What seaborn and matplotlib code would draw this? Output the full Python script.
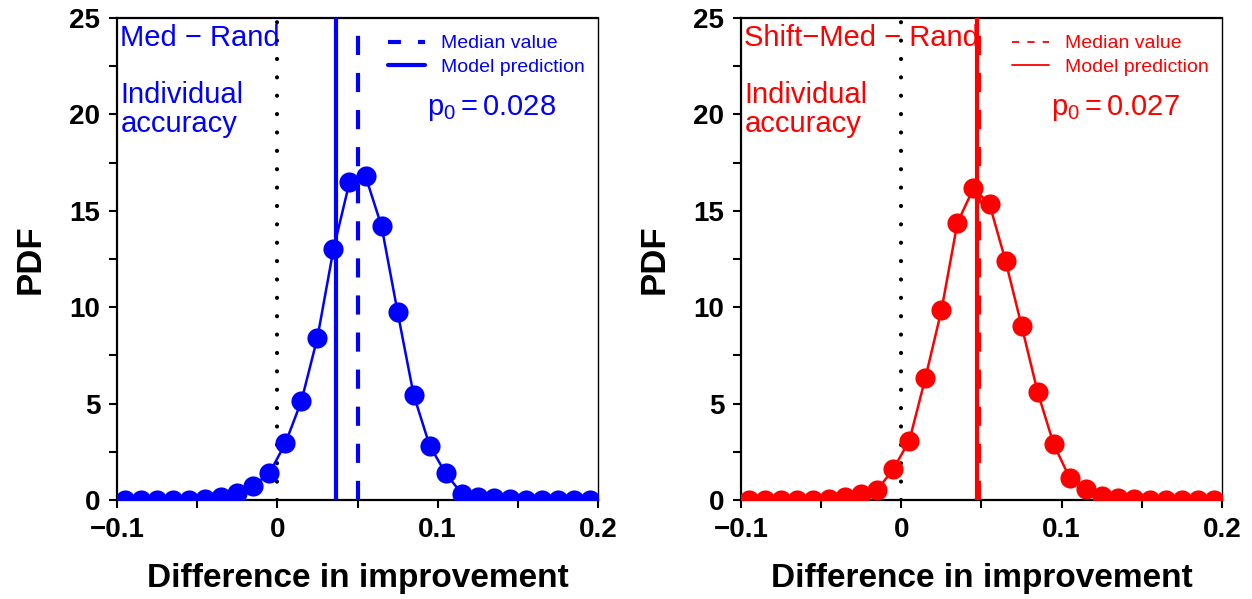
import matplotlib
matplotlib.use("Agg")
import matplotlib.pyplot as plt
import numpy as np
import pandas as pd
import seaborn as sns
from matplotlib.lines import Line2D
from matplotlib.ticker import FixedLocator

# Bin centres of the difference-in-improvement histogram
bin_centers = [-0.095, -0.085, -0.075, -0.065, -0.055, -0.045, -0.035, -0.025,
               -0.015, -0.005, 0.005, 0.015, 0.025, 0.035, 0.045, 0.055,
               0.065, 0.075, 0.085, 0.095, 0.105, 0.115, 0.125, 0.135,
               0.145, 0.155, 0.165, 0.175, 0.185, 0.195]

# PDF values: Med - Rand
pdf_med_rand = [0.0, 0.0, 0.0, 0.0, 0.02, 0.05, 0.15, 0.35, 0.74, 1.38,
                2.94, 5.13, 8.42, 13.0, 16.48, 16.8, 14.2, 9.75, 5.46, 2.82,
                1.38, 0.33, 0.15, 0.08, 0.03, 0.02, 0.01, 0.0, 0.0, 0.0]

# PDF values: Shift-Med - Rand
pdf_shift_med_rand = [0.0, 0.0, 0.0, 0.0, 0.02, 0.05, 0.17, 0.31, 0.52, 1.61,
                      3.08, 6.33, 9.84, 14.38, 16.17, 15.35, 12.4, 9.04, 5.6, 2.9,
                      1.14, 0.55, 0.2, 0.08, 0.03, 0.02, 0.01, 0.0, 0.0, 0.0]

panel_titles = ["Med \u2212 Rand", "Shift\u2212Med \u2212 Rand"]
p0_values = ["0.028", "0.027"]
median_values = [0.0504, 0.0485]
model_predictions = [0.0368, 0.0472]
colors = ["#0000ff", "#ff0000"]

x_ticks = [-0.1, 0.0, 0.1, 0.2]
x_tick_labels = ["\u22120.1", "0", "0.1", "0.2"]
y_ticks = [0, 5, 10, 15, 20, 25]

sns.set_style("ticks")
plt.rcParams["font.family"] = ["Liberation Sans", "DejaVu Sans"]
plt.rcParams["mathtext.fontset"] = "custom"
plt.rcParams["mathtext.rm"] = "Liberation Sans"
plt.rcParams["mathtext.it"] = "Liberation Sans:italic"
plt.rcParams["text.color"] = "black"
plt.rcParams["axes.labelcolor"] = "black"
plt.rcParams["xtick.color"] = "black"
plt.rcParams["ytick.color"] = "black"

fig = plt.figure(figsize=(12.52, 5.99), dpi=100)
ax_w, ax_h = 481 / 1252, 482 / 599
ax_bottom = 99 / 599
axes = [fig.add_axes([117 / 1252, ax_bottom, ax_w, ax_h]),
        fig.add_axes([741 / 1252, ax_bottom, ax_w, ax_h])]

series = [pdf_med_rand, pdf_shift_med_rand]
legend_styles = [
    dict(lw=3.0, median_ls=(0, (3.1, 4.1))),
    dict(lw=1.3, median_ls=(0, (4.0, 4.5))),
]

for i, ax in enumerate(axes):
    color = colors[i]
    df = pd.DataFrame({"diff": bin_centers, "pdf": series[i]})
    sns.lineplot(data=df, x="diff", y="pdf", ax=ax, color=color, lw=1.8,
                 marker="o", markersize=14.5, markeredgewidth=0, zorder=3)

    # zero reference line
    ax.axvline(0, color="black", lw=3.0, linestyle=(0, (0.01, 4.4)),
               dash_capstyle="round", zorder=2)
    # model prediction and median
    ax.axvline(model_predictions[i], color=color, lw=3.0, zorder=4)
    ax.axvline(median_values[i], color=color, lw=3.0,
               linestyle=(0, (4.6, 4.3)), zorder=4)

    ax.set_xlim(-0.1, 0.2)
    ax.set_ylim(0, 25)
    ax.xaxis.set_major_locator(FixedLocator(x_ticks))
    ax.set_xticklabels(x_tick_labels)
    ax.xaxis.set_minor_locator(FixedLocator([-0.05, 0.05, 0.15]))
    ax.yaxis.set_major_locator(FixedLocator(y_ticks))
    ax.yaxis.set_minor_locator(FixedLocator([2.5, 7.5, 12.5, 17.5, 22.5]))
    ax.tick_params(which="both", direction="out", length=6, width=1.5,
                   color="black", labelcolor="black", labelsize=20, pad=6)
    for lbl in ax.get_xticklabels() + ax.get_yticklabels():
        lbl.set_fontweight("bold")

    for side in ["left", "bottom", "top"]:
        ax.spines[side].set_linewidth(1.6)
        ax.spines[side].set_color("black")
    ax.spines["right"].set_linewidth(1.0)
    ax.spines["right"].set_color("black")

    ax.set_xlabel("Difference in improvement", fontsize=24, fontweight="bold",
                  labelpad=15, color="black")
    ax.set_ylabel("PDF", fontsize=25, fontweight="bold", labelpad=16,
                  color="black")

    ax.text(0.007, 0.988, panel_titles[i], transform=ax.transAxes,
            color=color, fontsize=21, ha="left", va="top")
    ax.text(0.007, 0.87, "Individual\naccuracy", transform=ax.transAxes,
            color=color, fontsize=21, ha="left", va="top", linespacing=1.05)
    ax.text(0.778, 0.813, r"$\mathregular{p_0 = %s}$" % p0_values[i],
            transform=ax.transAxes, color=color, fontsize=21,
            ha="center", va="center")

    st = legend_styles[i]
    handles = [
        Line2D([], [], color=color, lw=st["lw"], linestyle=st["median_ls"]),
        Line2D([], [], color=color, lw=st["lw"]),
    ]
    leg = ax.legend(handles, ["Median value", "Model prediction"],
                    loc="upper left", bbox_to_anchor=(0.563, 0.965),
                    frameon=False, fontsize=14, handlelength=1.9,
                    handletextpad=0.85, labelspacing=0.28, borderpad=0,
                    borderaxespad=0)
    for t in leg.get_texts():
        t.set_color(color)

fig.savefig("out.png", dpi=100)
